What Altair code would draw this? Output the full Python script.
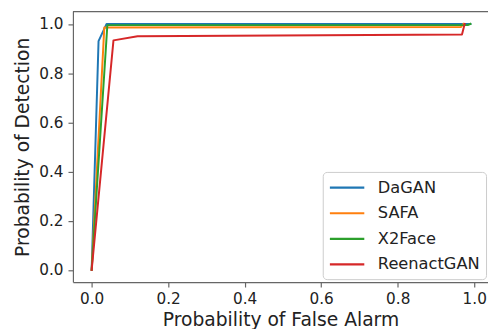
import altair as alt
import pandas as pd

series = ["DaGAN", "SAFA", "X2Face", "ReenactGAN"]
colors = ["#1f77b4", "#ff7f0e", "#2ca02c", "#d62728"]

dagan_x = [0.0, 0.018, 0.039, 0.99]
dagan_y = [0.0, 0.93, 1.0, 1.0]
safa_x = [0.0, 0.033, 0.965, 0.972]
safa_y = [0.0, 0.985, 0.987, 1.0]
x2face_x = [0.0, 0.041, 0.983, 0.99]
x2face_y = [0.0, 0.995, 0.995, 1.0]
reenact_x = [0.0, 0.057, 0.12, 0.968, 0.975]
reenact_y = [0.0, 0.933, 0.95, 0.957, 1.0]

xs = [dagan_x, safa_x, x2face_x, reenact_x]
ys = [dagan_y, safa_y, x2face_y, reenact_y]

rows = []
for name, sx, sy in zip(series, xs, ys):
    for i, (a, b) in enumerate(zip(sx, sy)):
        rows.append({"method": name, "pfa": a, "pd": b, "order": i})
df = pd.DataFrame(rows)

W, H = 422, 275
FONT = "DejaVu Sans"
AXC = "#666666"

xscale = alt.Scale(domain=[-0.049, 1.036], nice=False, zero=False)
yscale = alt.Scale(domain=[-0.05, 1.05], nice=False, zero=False)
cscale = alt.Scale(domain=series, range=colors)

layers = []
for i, name in enumerate(series):
    layers.append(
        alt.Chart(df).transform_filter(alt.datum.method == name)
        .mark_line(strokeWidth=2, strokeJoin="round", strokeCap="square")
        .encode(
            x=alt.X("pfa:Q", scale=xscale,
                    axis=alt.Axis(title="Probability of False Alarm", values=[0, 0.2, 0.4, 0.6, 0.8, 1.0],
                                  format=".1f", grid=False)),
            y=alt.Y("pd:Q", scale=yscale,
                    axis=alt.Axis(title="Probability of Detection", values=[0, 0.2, 0.4, 0.6, 0.8, 1.0],
                                  format=".1f", grid=False)),
            color=alt.Color("method:N", scale=cscale, sort=series,
                            legend=alt.Legend(title=None, orient="none", legendX=254, legendY=163,
                                              symbolType="M-1,0H3", symbolSize=306, symbolStrokeWidth=2.2,
                                              labelFontSize=16.5, labelFont=FONT, labelColor="#222222",
                                              rowPadding=7, labelOffset=30, padding=6,
                                              strokeColor="#cccccc", cornerRadius=4, fillColor="white")),
            order="order:Q",
        )
    )

top = alt.Chart(pd.DataFrame({"a": [0]})).mark_rule(color=AXC, strokeWidth=1.2).encode(
    x=alt.value(0), x2=alt.value(W), y=alt.value(0)
)

chart = alt.layer(*layers, top).properties(
    width=W, height=H,
    autosize=alt.AutoSizeParams(type="none"),
    padding={"left": 66, "top": 1, "right": 0, "bottom": 45},
).configure_view(stroke=None).configure_axis(
    domainColor=AXC, domainWidth=1.2, tickColor=AXC, tickSize=5, tickWidth=1.2,
    labelFont=FONT, labelFontSize=15.5, labelColor="#222222", labelPadding=4,
    titleFont=FONT, titleFontSize=19, titleFontWeight="normal", titleColor="#222222",
).configure_axisX(titlePadding=4, labelPadding=5).configure_axisY(titlePadding=7, labelPadding=5)

chart.save("out.html", embed_options={"renderer": "svg", "actions": False})
